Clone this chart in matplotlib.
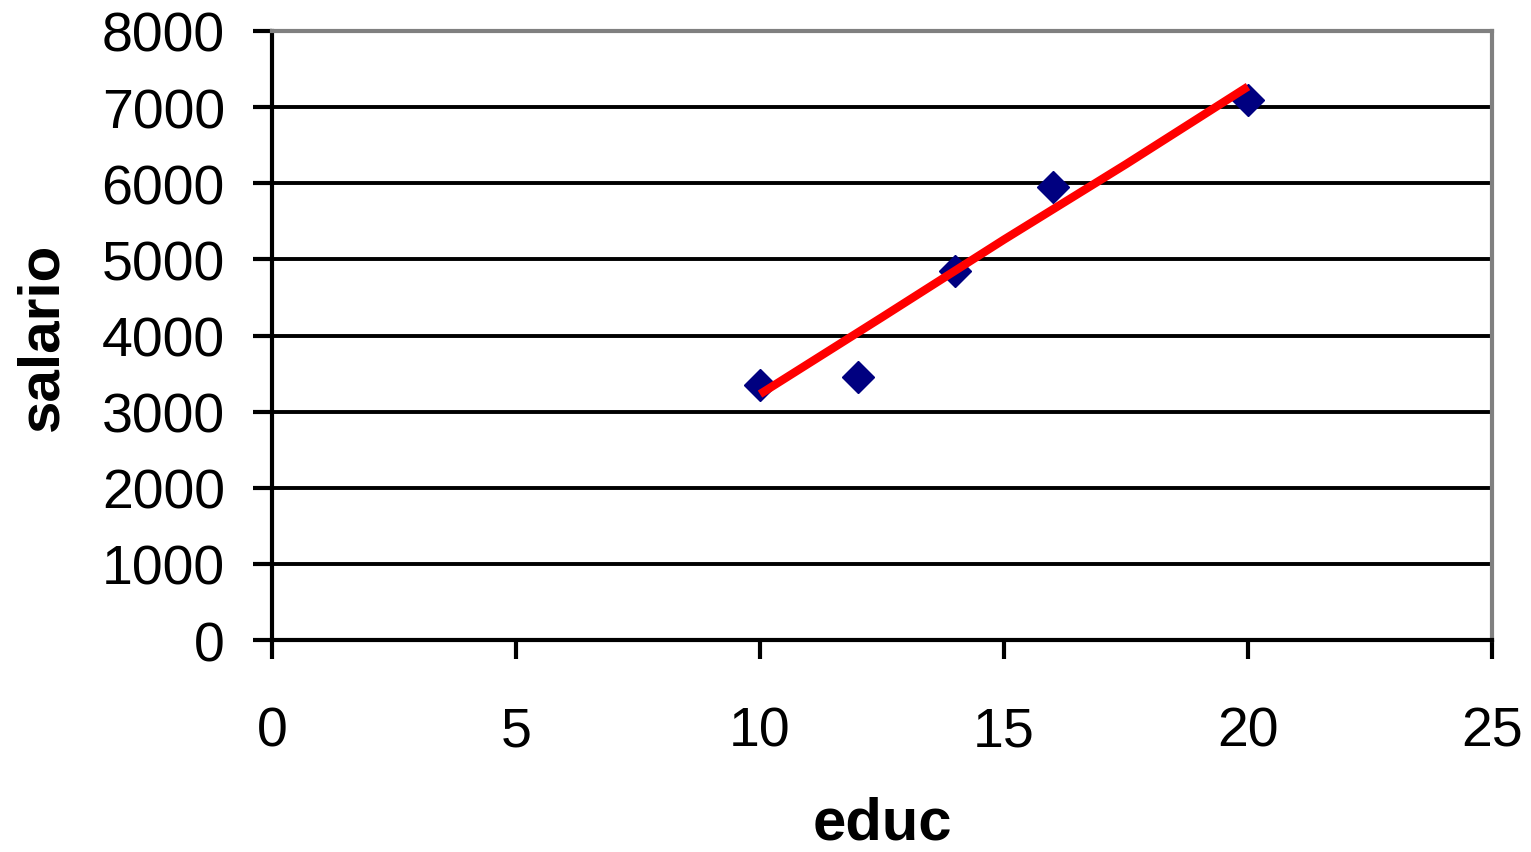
import matplotlib.pyplot as plt

plt.rcParams['font.family'] = ['Liberation Sans', 'DejaVu Sans']

# anos de estudo x salario
educ = [10, 12, 14, 16, 20]
salario = [3350, 3450, 4850, 5950, 7100]

# linha de tendencia
tend_x = [10, 12.5, 15, 17.5, 20]
tend_y = [3230, 4240, 5260, 6250, 7270]

fig = plt.figure(figsize=(15.31, 8.53), dpi=100)
ax = fig.add_axes([0.1777, 0.2485, 0.7968, 0.714])

ax.set_xlim(0, 25)
ax.set_ylim(0, 8000)
ax.set_xticks(range(0, 26, 5))
ax.set_yticks(range(0, 8001, 1000))

ax.grid(axis='y', color='black', linewidth=2.8, zorder=1)
ax.set_axisbelow(True)

ax.plot(educ, salario, linestyle='none', marker='D', markersize=16,
        color='#000080', zorder=3)
ax.plot(tend_x, tend_y, color='red', linewidth=6, zorder=4,
        solid_capstyle='butt')

for s in ['left', 'bottom']:
    ax.spines[s].set_color('black')
    ax.spines[s].set_linewidth(3)
for s in ['top', 'right']:
    ax.spines[s].set_color('#808080')
    ax.spines[s].set_linewidth(3)

ax.tick_params(axis='y', direction='out', length=14, width=3, pad=20, labelsize=40)
ax.tick_params(axis='x', direction='out', length=14, width=3, pad=33, labelsize=40)

ax.set_ylabel('salario', fontsize=42, fontweight='bold')
ax.set_xlabel('educ', fontsize=43, fontweight='bold')
ax.yaxis.set_label_coords(-0.166, 0.5)
ax.xaxis.set_label_coords(0.5, -0.256)

fig.savefig('out.png', dpi=100)
